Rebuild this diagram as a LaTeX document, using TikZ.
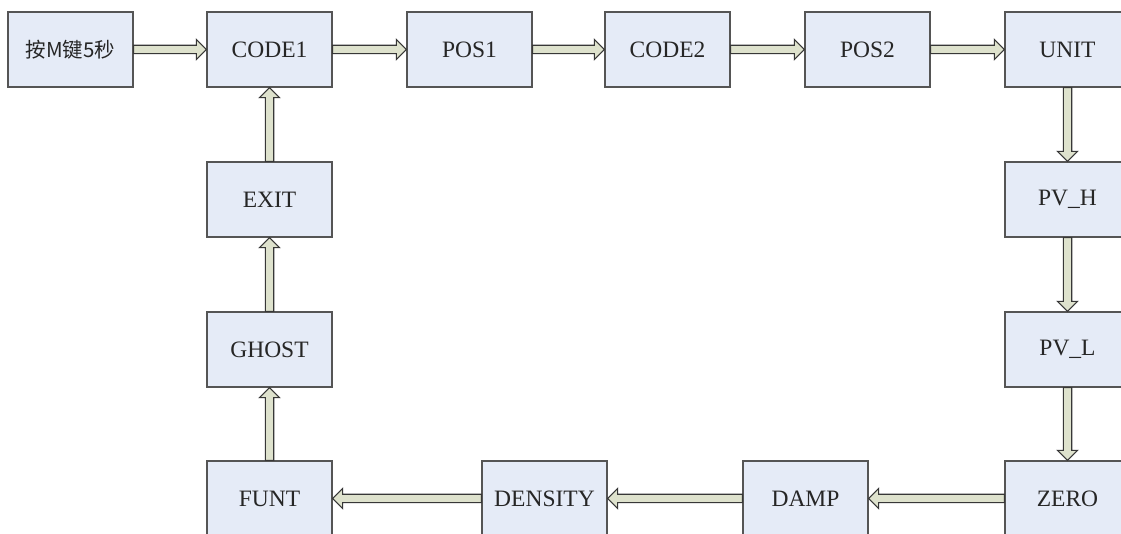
\documentclass[tikz,border=0pt]{standalone}
\usepackage{fontspec}
\setmainfont{Liberation Serif}
\newfontfamily\cjk{Noto Sans CJK SC}
\usetikzlibrary{calc}
\definecolor{boxfill}{RGB}{229,235,247}
\definecolor{boxline}{RGB}{85,85,85}
\definecolor{arrfill}{RGB}{222,226,205}
\definecolor{arrline}{RGB}{55,55,55}
\tikzset{
  stbox/.style={draw=boxline, fill=boxfill, line width=1.3pt, minimum width=125pt, minimum height=75pt, inner sep=0pt, text=black!85, font=\fontsize{23.5}{26}\selectfont},
  arr/.style={draw=arrline, fill=arrfill, line width=1.1pt, line join=miter}
}
\newcommand\harr[2]{%
  \path[arr] let \p1=(#1), \p2=(#2), \n1={sign(\x2-\x1)*10pt} in
    (\x1,\y1+4.2pt) -- (\x2-\n1,\y1+4.2pt) -- (\x2-\n1,\y1+10pt) -- (\x2,\y1) --
    (\x2-\n1,\y1-10pt) -- (\x2-\n1,\y1-4.2pt) -- (\x1,\y1-4.2pt) -- cycle;}
\newcommand\varr[2]{%
  \path[arr] let \p1=(#1), \p2=(#2), \n1={sign(\y2-\y1)*10pt} in
    (\x1+4.2pt,\y1) -- (\x1+4.2pt,\y2-\n1) -- (\x1+10pt,\y2-\n1) -- (\x1,\y2) --
    (\x1-10pt,\y2-\n1) -- (\x1-4.2pt,\y2-\n1) -- (\x1-4.2pt,\y1) -- cycle;}
\begin{document}
\begin{tikzpicture}[x=1pt,y=1pt]
\clip (0,0) rectangle (1121,534);
\fill[white] (0,0) rectangle (1121,534);
% top row
\node[stbox] (start) at (70.5,484.5) {\cjk\fontsize{20.5}{24}\selectfont 按M键5秒};
\node[stbox] (code1) at (269.5,484.5) {CODE1};
\node[stbox] (pos1) at (469.5,484.5) {POS1};
\node[stbox] (code2) at (667.5,484.5) {CODE2};
\node[stbox] (pos2) at (867.5,484.5) {POS2};
\node[stbox] (unit) at (1067.5,484.5) {UNIT};
% right column
\node[stbox] (pvh) at (1067.5,334.5) {PV\_H};
\node[stbox] (pvl) at (1067.5,184.5) {PV\_L};
\node[stbox] (zero) at (1067.5,35.5) {ZERO};
% bottom row
\node[stbox] (damp) at (805.5,35.5) {DAMP};
\node[stbox] (density) at (544.5,35.5) {DENSITY};
\node[stbox] (funt) at (269.5,35.5) {FUNT};
% left column
\node[stbox] (ghost) at (269.5,184.5) {GHOST};
\node[stbox] (exit) at (269.5,334.5) {EXIT};
% connectors
\harr{start.east}{code1.west}
\harr{code1.east}{pos1.west}
\harr{pos1.east}{code2.west}
\harr{code2.east}{pos2.west}
\harr{pos2.east}{unit.west}
\varr{unit.south}{pvh.north}
\varr{pvh.south}{pvl.north}
\varr{pvl.south}{zero.north}
\harr{zero.west}{damp.east}
\harr{damp.west}{density.east}
\harr{density.west}{funt.east}
\varr{funt.north}{ghost.south}
\varr{ghost.north}{exit.south}
\varr{exit.north}{code1.south}
\end{tikzpicture}
\end{document}
